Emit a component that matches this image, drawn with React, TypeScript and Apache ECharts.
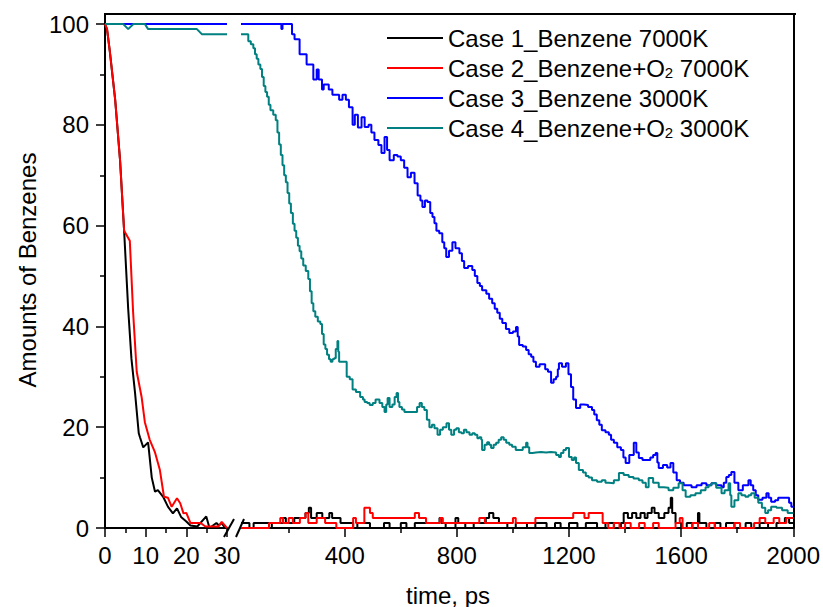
import React, { useEffect, useRef } from 'react';
import * as echarts from 'echarts';

const seriesNames = [
  'Case 1_Benzene 7000K',
  'Case 2_Benzene+O2 7000K',
  'Case 3_Benzene 3000K',
  'Case 4_Benzene+O2 3000K',
];
const seriesColors = ['#000000', '#ff0000', '#0000ff', '#008080'];

const yTicks = [0, 20, 40, 60, 80, 100];
const yMinorTicks = [10, 30, 50, 70, 90];
const xLateTicks = [400, 800, 1200, 1600, 2000];
const xLateMinorTicks = [200, 600, 1000, 1400, 1800];

// ---- early segment, 0–30 ps : [time, amount]
const case1Early = [[0,100],[0.5,99],[1.2,94.5],[2.5,85],[3.7,73],[4.7,59],[5.7,43.5],[6.5,33.6],[7.4,26.7],[8.3,18.8],[8.6,18],[9.4,16],[10.6,17],[11.5,10],[12.3,7.2],[13,7.5],[14.3,6.2],[15.5,4.2],[16.7,2.9],[17.7,3.9],[18.7,2.2],[20,1.3],[21,0.5],[22.7,0.3],[24.9,2.3],[25.7,0],[27.4,1],[28,0.5],[28.7,1],[29.5,0],[30,0]];
const case2Early = [[0,100],[0.5,99],[1.2,94.5],[2.5,85],[3.7,73],[4.7,59],[6.1,57],[6.9,43],[7.8,31],[9,26],[9.8,21],[11,17.5],[12.3,15],[13.5,11.5],[14.5,6.2],[15.5,6],[16.4,4.2],[17.7,5.9],[18.5,4.9],[19.3,2.9],[20,3],[21,1],[23.5,1],[24.7,0.3],[27.9,0.3],[28.7,1.2],[30,0]];
const case3Early = [[0,100],[30,100]];
const case4Early = [[0,100],[4.5,100],[5.7,99],[7,100],[9.8,100],[10.6,99],[22.6,99],[23.8,98],[30,98]];

// ---- late segment, 30–2000 ps : [time, amount]
const case1Late = [[30,1],[60,0],[75,1],[120,1],[130,0],[140,1],[170,1],[180,2],[190,1],[220,2],[240,2],[260,3],[272,4],[280,2],[300,3],[320,2],[345,3],[355,2],[375,2],[385,1],[400,1],[430,0],[445,1],[480,1],[490,0],[520,0],[540,1],[560,0],[600,1],[620,0],[650,1],[700,1],[738,2],[745,1],[760,0],[795,2],[805,1],[830,0],[860,1],[903,2],[915,3],[930,2],[950,1],[980,0],[1010,1],[1050,0],[1080,1],[1120,0],[1150,1],[1170,0],[1200,1],[1230,0],[1260,1],[1300,0],[1330,1],[1360,0],[1385,1],[1395,3],[1410,2],[1425,3],[1440,2],[1455,3],[1470,2],[1480,3],[1495,4],[1505,3],[1520,2],[1540,3],[1555,4],[1563,6],[1568,3],[1580,1],[1600,0],[1620,1],[1640,0],[1660,3],[1665,1],[1690,0],[1720,1],[1740,0],[1760,1],[1790,0],[1830,1],[1850,0],[1880,1],[1910,0],[1940,1],[1970,2],[1985,1],[2000,1]];
const case2Late = [[30,0],[120,0],[130,1],[160,1],[170,2],[180,1],[200,2],[215,1],[240,2],[260,3],[270,1],[300,2],[330,1],[370,0],[400,0],[430,2],[440,1],[460,1],[470,4],[490,3],[500,2],[560,2],[600,2],[640,2],[650,3],[665,2],[690,1],[720,1],[740,2],[750,1],[800,1],[860,1],[880,2],[900,1],[960,1],[1000,2],[1010,1],[1060,1],[1080,2],[1100,2],[1140,2],[1160,2],[1200,2],[1215,3],[1240,3],[1255,2],[1270,3],[1300,3],[1320,1],[1340,0],[1360,1],[1380,0],[1400,1],[1420,0],[1450,1],[1470,0],[1500,1],[1520,0],[1560,0],[1580,1],[1595,2],[1605,0],[1640,1],[1660,0],[1700,1],[1720,0],[1760,0],[1790,1],[1810,0],[1860,1],[1880,2],[1900,1],[1930,2],[1950,1],[1975,2],[2000,2]];
const case3Late = [[30,100],[170,100],[174,99],[178,100],[209,100],[212,98],[221,97],[239,94],[258,94],[264,92],[276,92],[288,89],[300,91],[307,89],[319,87],[325,88],[343,87],[356,86],[368,86],[380,85],[392,86],[404,85],[415,83.5],[428,80],[436,82],[447,79.5],[460,81.5],[471,79.6],[485,80],[495,78.5],[506,77],[520,76],[531,74.4],[542,77.6],[551,75],[560,73],[575,74],[588,73.7],[600,73],[612,71.5],[624,69.6],[636,70.5],[649,68.4],[660,66],[670,65],[677,63.7],[686,65],[695,64.7],[705,62.5],[713,61.7],[720,60.5],[727,59],[737,58.5],[748,56.7],[755,55.5],[762,53.8],[772,55],[784,56.7],[795,55.5],[809,54.5],[818,53],[826,51.6],[840,52],[855,51.2],[864,50],[873,48.6],[882,48],[890,47.2],[905,46.5],[915,45.5],[926,44.6],[935,43.5],[944,42.7],[953,41.5],[962,40.7],[975,39.5],[987,38.7],[1000,39],[1011,39.9],[1017,38],[1022,36.3],[1035,36],[1047,35.3],[1056,34.5],[1065,34],[1073,33],[1082,32],[1095,32.5],[1105,32.5],[1115,31.5],[1125,31],[1136,28.8],[1145,29.5],[1154,30],[1160,31.5],[1164,32.7],[1175,32],[1189,32.7],[1198,30.5],[1207,28],[1215,25.5],[1225,23.8],[1240,24.5],[1253,24.4],[1268,24],[1282,23.4],[1290,22.5],[1299,21.4],[1308,20.5],[1317,19.4],[1330,19],[1342,18.5],[1350,17.5],[1360,16.9],[1372,16],[1385,15.5],[1394,14],[1402,12.9],[1415,14.5],[1431,16.9],[1440,15],[1449,13.9],[1462,13.5],[1477,13.5],[1490,14],[1500,14.5],[1509,14.9],[1515,13],[1520,11.9],[1535,12.5],[1550,12],[1562,12.9],[1572,11],[1584,9.5],[1596,9],[1609,8.5],[1622,8.5],[1637,8.1],[1655,8.5],[1673,8.9],[1690,8.5],[1708,8.9],[1725,8.5],[1744,8.1],[1752,9],[1761,10.1],[1770,10.5],[1779,11.1],[1790,9],[1804,7.5],[1820,8.5],[1840,9.5],[1848,8.5],[1857,7.5],[1866,6.5],[1875,5.6],[1890,6],[1904,6.9],[1912,6],[1921,5.2],[1935,5.5],[1946,6],[1960,6],[1975,6],[1985,5],[1993,4.2],[2000,4]];
const case4Late = [[30,98],[43,98],[56,96.6],[65,96],[74,95.2],[80,94],[86,93.1],[92,92],[99,91.1],[105,89.5],[111,87.7],[117,86.5],[123,85.6],[129,84],[135,82.9],[145,82],[154,80.9],[160,78.5],[166,76.1],[172,74],[178,72],[184,70],[190,68.6],[196,66.5],[202,64.4],[208,62.5],[215,60.4],[221,59],[227,57.6],[233,56],[239,54.9],[245,53.5],[252,52.1],[261,51],[270,49.4],[276,47],[282,44.6],[288,43],[295,41.9],[304,41],[313,40.5],[319,38.5],[325,36.4],[331,35.5],[337,34.4],[344,33.5],[350,33],[356,33.5],[362,33.7],[368,35.5],[374,37.1],[377,35],[380,33],[400,33],[407,30],[418,29.5],[428,27.5],[440,27],[455,26],[465,25.5],[471,25],[480,24.8],[489,24.4],[500,24.8],[510,25.5],[524,24.8],[534,24],[542,23],[548,24.5],[553,25.8],[560,24],[570,24.5],[578,26],[585,26.8],[590,25],[595,24],[604,23.5],[613,23],[630,23],[649,23],[658,24],[667,24.8],[675,24],[684,23.4],[693,21.5],[702,20],[711,20.5],[720,19.8],[731,18.5],[740,19.5],[750,20],[763,20.8],[772,19.5],[780,18.5],[790,19.5],[798,19.8],[807,19],[816,18.8],[825,19.5],[834,19],[845,18.5],[855,18.8],[864,18.5],[873,17.8],[880,18],[887,17.5],[890,15.5],[899,16.5],[908,17],[915,16.5],[922,15.9],[931,16.5],[940,16.9],[949,17.5],[958,18],[967,17.5],[976,16.9],[987,16.5],[997,16.1],[1010,15.5],[1022,15.5],[1035,16],[1047,16.9],[1052,16],[1058,14.9],[1070,15],[1082,15.1],[1100,15],[1118,15.1],[1135,15],[1154,14.5],[1164,14.1],[1171,14.9],[1180,15.5],[1189,15.9],[1200,14.1],[1210,13.5],[1218,14],[1225,12.9],[1235,11.5],[1242,11.5],[1250,11],[1260,10.3],[1270,10],[1282,9.5],[1300,9.2],[1317,9.5],[1330,9],[1342,8.9],[1360,9.5],[1378,10.9],[1395,10.5],[1413,10.1],[1430,9.8],[1449,9.5],[1462,9],[1474,8.1],[1484,9.9],[1500,9],[1520,8.1],[1538,8],[1555,7.5],[1572,8],[1591,8.9],[1605,7.5],[1616,6.2],[1633,6.5],[1651,6.9],[1670,7.5],[1687,8.1],[1698,8.5],[1708,8.9],[1725,8],[1744,6.9],[1755,7.5],[1769,8.9],[1775,6.5],[1779,4.2],[1790,5.5],[1804,6.9],[1815,6.5],[1829,6.2],[1840,6.5],[1850,6.9],[1862,6],[1875,5],[1888,4],[1900,3],[1910,3.5],[1921,4.2],[1940,4],[1960,3.5],[1980,3],[1993,3],[2000,3]];

const earlyData = [case1Early, case2Early, case3Early, case4Early];
const lateData = [case1Late, case2Late, case3Late, case4Late];

const FONT = 'Liberation Sans, Arial, sans-serif';

export default function App() {
  const ref = useRef<HTMLDivElement>(null);
  useEffect(() => {
    if (!ref.current) return;
    const chart = echarts.init(ref.current, null, { renderer: 'svg' });
    const axisLine = { show: true, lineStyle: { color: '#000', width: 2 } };
    const labelStyle = { color: '#000', fontSize: 24, fontFamily: FONT, formatter: (v: number) => String(v) };
    const series: any[] = [];
    earlyData.forEach((d, i) => {
      series.push({
        type: 'line', name: seriesNames[i], data: d, xAxisIndex: 0, yAxisIndex: 0,
        symbol: 'none', lineStyle: { color: seriesColors[i], width: 2 }, itemStyle: { color: seriesColors[i] },
      });
    });
    lateData.forEach((d, i) => {
      series.push({
        type: 'line', name: seriesNames[i], data: d, xAxisIndex: 1, yAxisIndex: 1, step: 'end',
        symbol: 'none', lineStyle: { color: seriesColors[i], width: 2 }, itemStyle: { color: seriesColors[i] },
      });
    });
    chart.setOption({
      animation: false,
      backgroundColor: '#fff',
      grid: [
        { left: 105, width: 122, top: 14, bottom: 79 },
        { left: 241, right: 28, top: 14, bottom: 79 },
      ],
      xAxis: [
        {
          type: 'value', gridIndex: 0, min: 0, max: 30, interval: 10,
          axisLine, splitLine: { show: false },
          axisTick: { show: true, length: 9, lineStyle: { color: '#000', width: 1.5 } },
          minorTick: { show: true, splitNumber: 2, length: 5, lineStyle: { color: '#000', width: 1.5 } },
          axisLabel: { ...labelStyle, margin: 15 },
        },
        {
          type: 'value', gridIndex: 1, min: 30, max: 2000,
          axisLine, splitLine: { show: false },
          axisTick: { show: true, length: 9, customValues: xLateTicks, lineStyle: { color: '#000', width: 1.5 } },
          axisLabel: { ...labelStyle, margin: 15, customValues: xLateTicks },
        },
        {
          type: 'value', gridIndex: 1, min: 30, max: 2000, position: 'bottom',
          axisLine: { show: false }, splitLine: { show: false },
          axisTick: { show: true, length: 5, customValues: xLateMinorTicks, lineStyle: { color: '#000', width: 1.5 } },
          axisLabel: { show: false },
        },
      ],
      yAxis: [
        {
          type: 'value', gridIndex: 0, min: 0, max: 102, position: 'left',
          axisLine, splitLine: { show: false },
          axisTick: { show: true, length: 9, customValues: yTicks, lineStyle: { color: '#000', width: 1.5 } },
          axisLabel: { ...labelStyle, margin: 16, customValues: yTicks },
        },
        {
          type: 'value', gridIndex: 1, min: 0, max: 102, position: 'right',
          axisLine, splitLine: { show: false }, axisTick: { show: false }, axisLabel: { show: false },
        },
        {
          type: 'value', gridIndex: 0, min: 0, max: 102, position: 'left',
          axisLine: { show: false }, splitLine: { show: false },
          axisTick: { show: true, length: 5, customValues: yMinorTicks, lineStyle: { color: '#000', width: 1.5 } },
          axisLabel: { show: false },
        },
      ],
      legend: {
        orient: 'vertical', left: 387, top: 26, padding: 0,
        icon: 'rect', itemWidth: 56, itemHeight: 2, itemGap: 6,
        data: seriesNames,
        textStyle: {
          color: '#000', fontSize: 24, fontFamily: FONT,
          rich: { sub: { fontSize: 15, fontFamily: FONT, color: '#000', verticalAlign: 'bottom' } },
        },
        formatter: (name: string) => name.replace('O2', 'O{sub|2}'),
      },
      graphic: [
        { type: 'line', shape: { x1: 104, y1: 14, x2: 796, y2: 14 }, style: { stroke: '#000', lineWidth: 2 } },
        { type: 'line', shape: { x1: 224, y1: 537, x2: 234, y2: 519 }, style: { stroke: '#000', lineWidth: 2 } },
        { type: 'line', shape: { x1: 236, y1: 537, x2: 244, y2: 519 }, style: { stroke: '#000', lineWidth: 2 } },
        {
          type: 'text', x: 448, y: 595,
          style: { text: 'time, ps', fontSize: 24, fontFamily: FONT, fill: '#000', align: 'center', verticalAlign: 'middle' },
        },
        {
          type: 'text', x: 27, y: 270, rotation: Math.PI / 2,
          style: { text: 'Amounts of Benzenes', fontSize: 24, fontFamily: FONT, fill: '#000', align: 'center', verticalAlign: 'middle' },
        },
      ],
      series,
    });
    return () => chart.dispose();
  }, []);
  return <div ref={ref} style={{ position: 'fixed', left: 0, top: 0, width: 823, height: 607 }} />;
}
